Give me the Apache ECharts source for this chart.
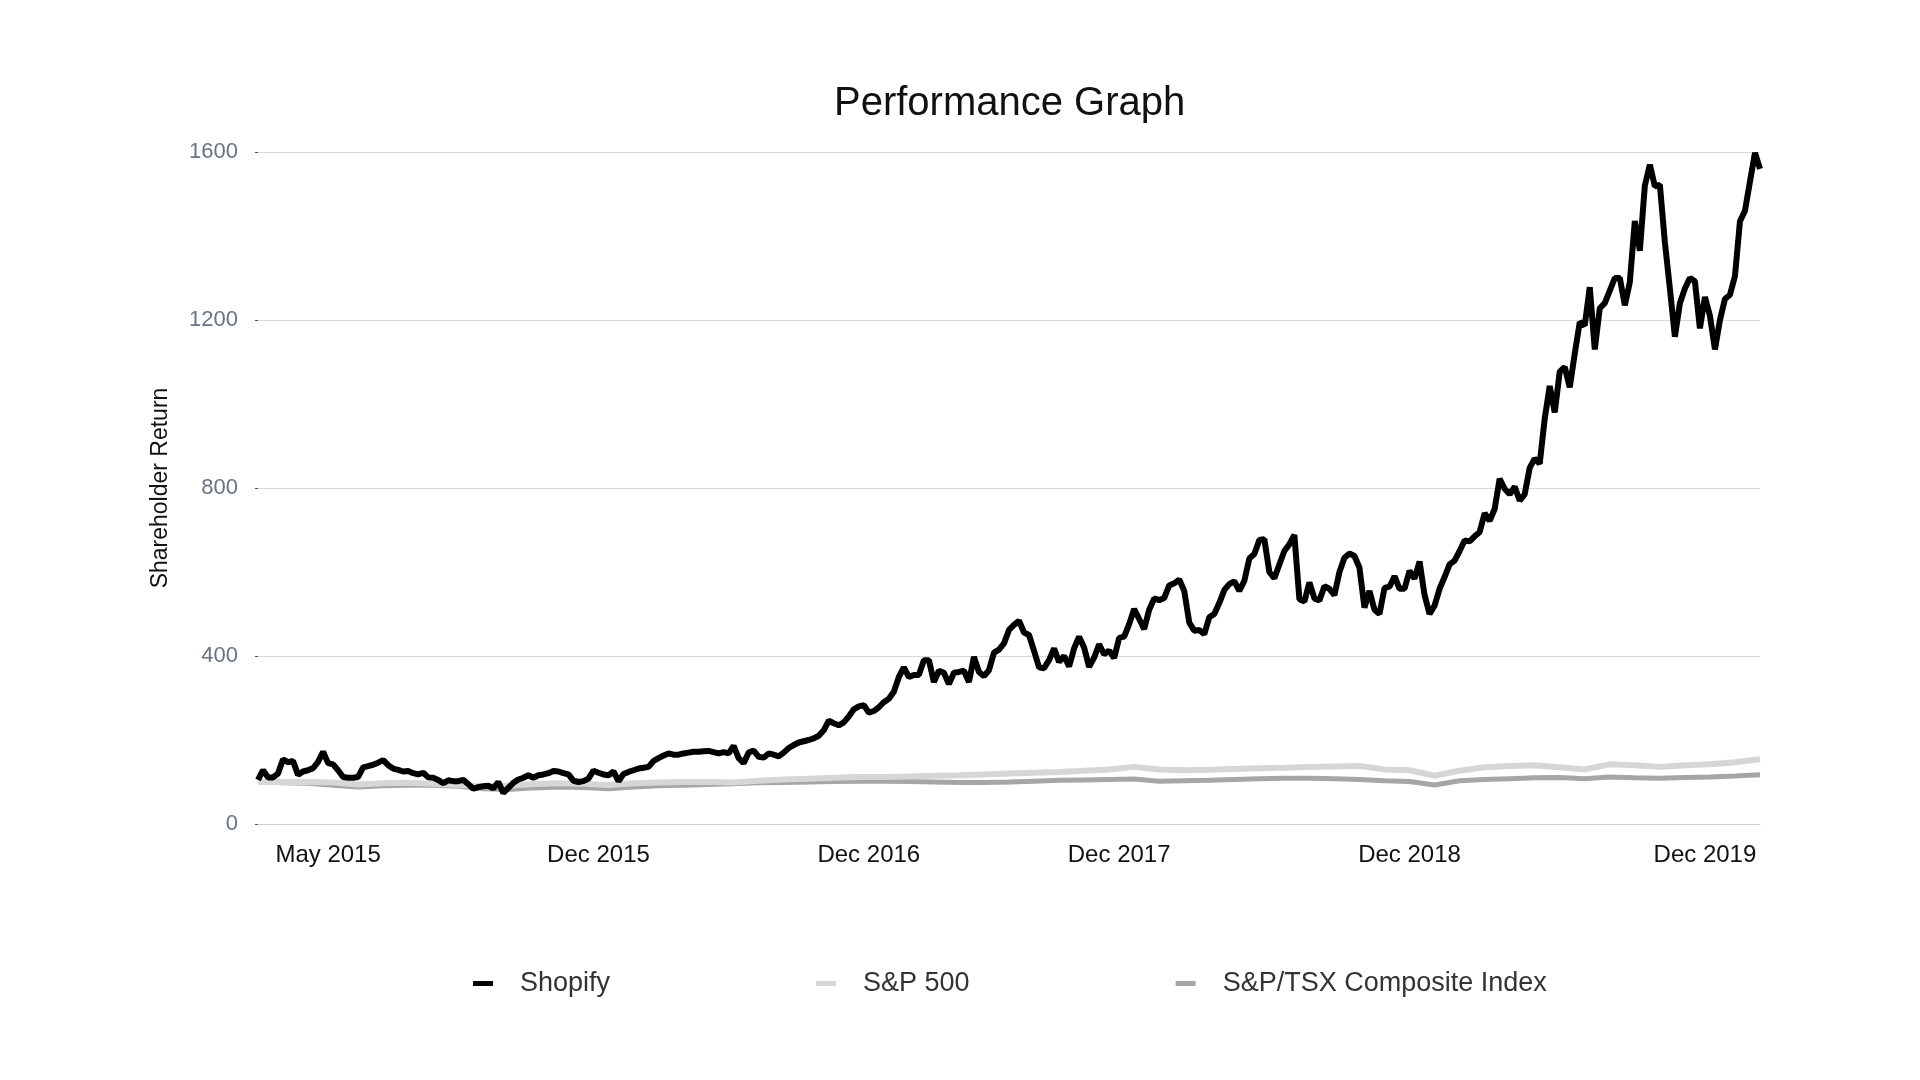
<!DOCTYPE html>
<html><head><meta charset="utf-8">
<script src="https://cdn.jsdelivr.net/npm/echarts@6/dist/echarts.min.js"></script>
<style>html,body{margin:0;padding:0;background:#fff}#c{width:1920px;height:1080px}</style>
</head><body><div id="c"></div>
<script>
// x-axis tick labels and the category index each one sits on
const tickLabels = ['May 2015', 'Dec 2015', 'Dec 2016', 'Dec 2017', 'Dec 2018', 'Dec 2019'];
const tickIndex = [14, 68, 122, 172, 230, 289];

// Shopify shareholder return (dense samples)
const shopify = [
  105,128,111,111,120,154,147,150,117,125,
  128,133,148,172,145,142,128,112,110,110,
  112,135,138,141,146,152,140,132,129,125,
  126,121,118,122,111,110,105,97,104,102,
  102,105,95,84,88,90,91,85,100,74,
  86,98,106,110,116,110,116,118,121,126,
  125,121,118,103,100,102,108,127,122,118,
  116,125,102,119,124,128,132,134,136,150,
  157,163,168,165,165,168,170,172,172,173,
  174,171,168,171,168,186,157,145,170,175,
  160,158,168,165,161,170,181,188,194,197,
  200,204,210,223,246,240,235,242,256,273,
  280,283,265,269,278,290,298,315,350,373,
  350,355,355,390,390,338,365,360,333,360,
  362,365,338,398,362,352,366,408,415,430,
  462,474,484,456,450,412,373,371,390,418,
  386,400,375,418,446,420,374,396,428,404,
  413,395,443,446,476,512,488,464,510,537,
  533,538,568,573,582,555,480,460,462,452,
  492,500,526,557,571,578,555,579,632,643,
  676,678,600,585,618,650,666,688,535,530,
  575,537,532,566,560,545,600,634,644,638,
  610,515,555,510,500,562,565,590,560,560,
  603,584,625,545,500,520,560,588,618,627,
  650,675,673,685,695,740,722,750,822,798,
  785,803,770,785,848,870,858,965,1043,980,
  1077,1088,1040,1120,1195,1187,1278,1130,1228,1240,
  1270,1300,1300,1235,1290,1436,1365,1520,1570,1518,
  1522,1385,1275,1160,1240,1275,1300,1292,1180,1255,
  1210,1130,1200,1250,1260,1305,1435,1460,1530,1598,
  1560
];

// Index series (coarser samples over the same period)
const sp500 = [
  100,100,100,99,94,97,98,96,93,89,
  91,95,97,96,93,97,99,100,100,99,
  103,106,108,110,112,112,113,115,116,118,
  120,122,124,127,130,136,130,128,129,131,
  133,134,136,137,138,130,128,115,127,135,
  138,140,135,130,142,140,136,140,142,147,
  154
];
const tsx = [
  100,98,97,92,88,91,92,92,90,84,
  82,86,88,87,84,88,91,92,94,96,
  98,99,100,101,102,102,101,100,99,99,
  100,102,104,105,106,107,102,103,104,106,
  108,109,109,108,106,103,101,93,103,106,
  108,110,111,108,112,110,109,111,112,114,
  117
];

const seriesNames = ['Shopify', 'S&P 500', 'S&P/TSX Composite Index'];

const dailyCats = shopify.map((_, i) => 'd' + i);
const indexCats = sp500.map((_, i) => 'w' + i);
const tickMap = {};
tickIndex.forEach((k, n) => { tickMap[k] = tickLabels[n]; });

const FONT = '"Liberation Sans", Arial, Helvetica, sans-serif';
const chart = echarts.init(document.getElementById('c'), null, { renderer: 'canvas' });
chart.setOption({
  animation: false,
  backgroundColor: '#ffffff',
  title: {
    text: 'Performance Graph', left: 834, top: 84, padding: 0,
    textStyle: { fontFamily: FONT, fontSize: 40, fontWeight: 'normal', color: '#111' }
  },
  legend: {
    data: seriesNames, left: 473, top: 970, padding: 0, itemGap: 206,
    itemWidth: 20, itemHeight: 5, icon: 'rect',
    textStyle: { fontFamily: FONT, fontSize: 27, color: '#333', padding: [0, 0, 0, 22] }
  },
  grid: { left: 258, right: 160, top: 152, bottom: 256 },
  xAxis: [
    {
      type: 'category', data: dailyCats, boundaryGap: false,
      axisLine: { lineStyle: { color: '#cccccc' } },
      axisTick: { show: false },
      splitLine: { show: false },
      axisLabel: {
        interval: (i) => (i in tickMap),
        formatter: (v, i) => tickMap[i] || '',
        fontFamily: FONT, fontSize: 24, color: '#111', margin: 19
      }
    },
    { type: 'category', data: indexCats, boundaryGap: false, show: false }
  ],
  yAxis: {
    type: 'value', min: 0, max: 1600, interval: 400,
    name: 'Shareholder Return', nameLocation: 'middle', nameGap: 86, nameRotate: 90,
    nameTextStyle: { fontFamily: FONT, fontSize: 23, color: '#111' },
    axisLine: { show: false },
    axisTick: { show: true, length: 3, lineStyle: { color: '#555' } },
    axisLabel: { fontFamily: FONT, fontSize: 22, color: '#6a7385', margin: 20, formatter: (v) => String(v) },
    splitLine: { lineStyle: { color: '#d9d9d9', width: 1 } }
  },
  series: [
    {
      name: seriesNames[0], type: 'line', xAxisIndex: 0, data: shopify,
      symbol: 'none', showSymbol: false, z: 4,
      lineStyle: { color: '#000000', width: 6 }, itemStyle: { color: '#000000' }
    },
    {
      name: seriesNames[1], type: 'line', xAxisIndex: 1, data: sp500,
      symbol: 'none', showSymbol: false, z: 3,
      lineStyle: { color: '#d6d6d6', width: 6 }, itemStyle: { color: '#d6d6d6' }
    },
    {
      name: seriesNames[2], type: 'line', xAxisIndex: 1, data: tsx,
      symbol: 'none', showSymbol: false, z: 2,
      lineStyle: { color: '#a6a6a6', width: 5 }, itemStyle: { color: '#a6a6a6' }
    }
  ]
});
</script>
</body></html>
